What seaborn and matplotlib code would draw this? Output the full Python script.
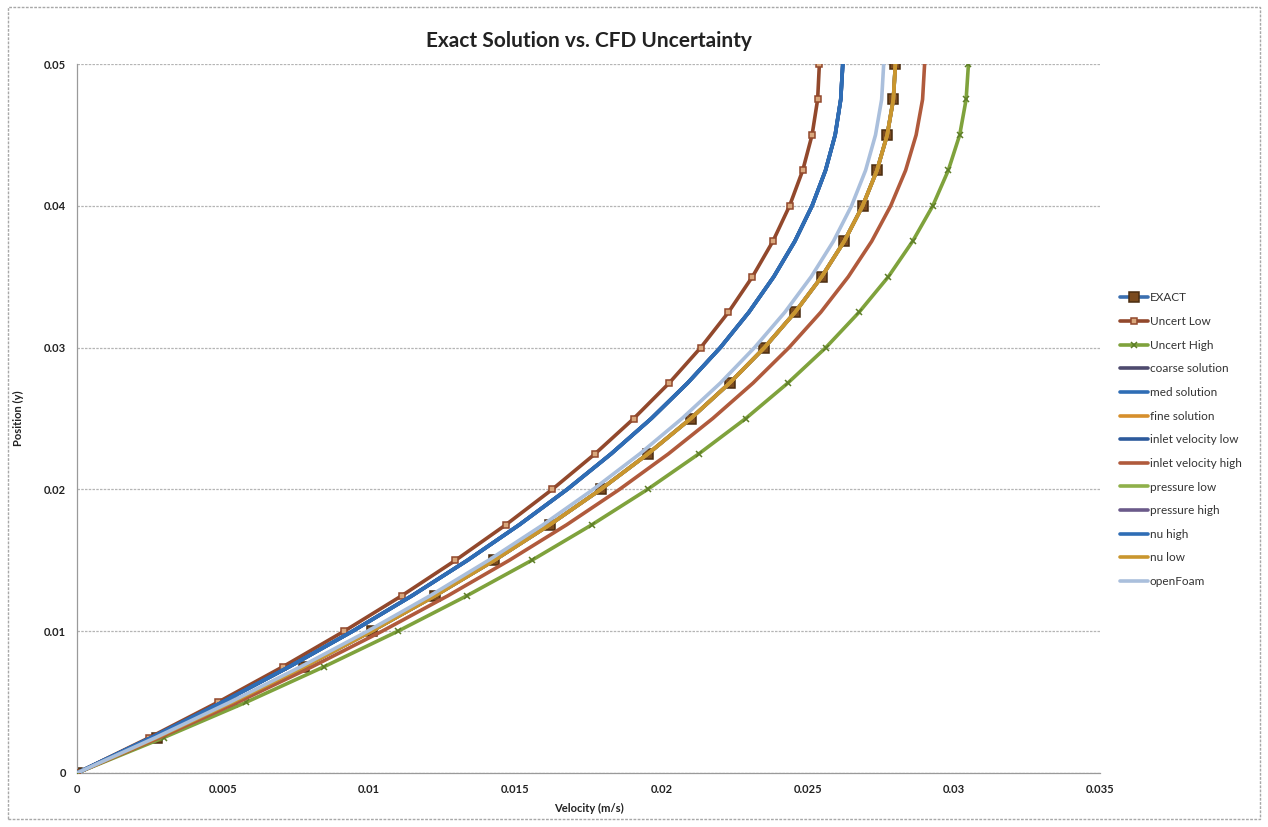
import matplotlib
matplotlib.use("Agg")
import matplotlib.pyplot as plt
import seaborn as sns
import pandas as pd
from matplotlib.patches import Rectangle

# ---- data ----
position = [0, 0.0025, 0.005, 0.0075, 0.01, 0.0125, 0.015, 0.0175, 0.02, 0.0225, 0.025,
            0.0275, 0.03, 0.0325, 0.035, 0.0375, 0.04, 0.0425, 0.045, 0.0475, 0.05]

exact = [0, 0.00273, 0.00532, 0.00777, 0.01008, 0.01225, 0.01428, 0.01617, 0.01792, 0.01953, 0.0210,
         0.02233, 0.02352, 0.02457, 0.02548, 0.02625, 0.02688, 0.02737, 0.02772, 0.02793, 0.0280]
uncert_low = [0, 0.00248, 0.00483, 0.00705, 0.00914, 0.01111, 0.01295, 0.01467, 0.01626, 0.01772, 0.01905,
              0.02026, 0.02134, 0.02229, 0.02311, 0.02381, 0.02438, 0.02483, 0.02515, 0.02534, 0.0254]
uncert_high = [0, 0.00297, 0.00580, 0.00846, 0.01098, 0.01334, 0.01556, 0.01761, 0.01952, 0.02127, 0.02288,
               0.02432, 0.02562, 0.02676, 0.02776, 0.02859, 0.02928, 0.02981, 0.03020, 0.03042, 0.0305]
med_solution = [0, 0.00255, 0.00498, 0.00727, 0.00943, 0.01146, 0.01336, 0.01513, 0.01677, 0.01827, 0.01965,
                0.02089, 0.02201, 0.02299, 0.02384, 0.02456, 0.02515, 0.02561, 0.02594, 0.02613, 0.0262]
coarse_solution = med_solution
fine_solution = [0, 0.00273, 0.00532, 0.00777, 0.01008, 0.01225, 0.01428, 0.01617, 0.01792, 0.01953, 0.0210,
                 0.02233, 0.02352, 0.02457, 0.02548, 0.02625, 0.02688, 0.02737, 0.02772, 0.02793, 0.0280]
inlet_low = med_solution
inlet_high = [0, 0.00283, 0.00551, 0.00805, 0.01044, 0.01269, 0.01479, 0.01675, 0.01856, 0.02023, 0.02175,
              0.02313, 0.02436, 0.02545, 0.02639, 0.02719, 0.02784, 0.02835, 0.02871, 0.02893, 0.0290]
pressure_low = fine_solution
pressure_high = fine_solution
nu_high = med_solution
nu_low = fine_solution
openfoam = [0, 0.00269, 0.00524, 0.00766, 0.00994, 0.01208, 0.01408, 0.01594, 0.01766, 0.01925, 0.0207,
            0.02201, 0.02318, 0.02422, 0.02512, 0.02588, 0.0265, 0.02698, 0.02732, 0.02753, 0.0276]

series_names = ["EXACT", "Uncert Low", "Uncert High", "coarse solution", "med solution", "fine solution",
                "inlet velocity low", "inlet velocity high", "pressure low", "pressure high",
                "nu high", "nu low", "openFoam"]
series_values = [exact, uncert_low, uncert_high, coarse_solution, med_solution, fine_solution,
                 inlet_low, inlet_high, pressure_low, pressure_high, nu_high, nu_low, openfoam]

x_ticks = [0, 0.005, 0.01, 0.015, 0.02, 0.025, 0.03, 0.035]
x_tick_labels = ["0", "0.005", "0.01", "0.015", "0.02", "0.025", "0.03", "0.035"]
y_ticks = [0, 0.01, 0.02, 0.03, 0.04, 0.05]
y_tick_labels = ["0", "0.01", "0.02", "0.03", "0.04", "0.05"]

# ---- styles ----
styles = {
    "EXACT": dict(color="#3b6fb0", marker="s", ms=7, mfc="#7a4a1e", mec="#4a2c10"),
    "Uncert Low": dict(color="#92482c", marker="s", ms=5, mfc="#d9a77c", mec="#92482c"),
    "Uncert High": dict(color="#7fa23c", marker="x", ms=5, mfc="#7fa23c", mec="#5d7d28"),
    "coarse solution": dict(color="#4e4a6e"),
    "med solution": dict(color="#2f6db5"),
    "fine solution": dict(color="#d68f2c"),
    "inlet velocity low": dict(color="#2d5a9c"),
    "inlet velocity high": dict(color="#b05a3c"),
    "pressure low": dict(color="#8fb04a"),
    "pressure high": dict(color="#6b5a8a"),
    "nu high": dict(color="#2f6db5"),
    "nu low": dict(color="#c9962e"),
    "openFoam": dict(color="#aabfdc"),
}

sns.set_theme(style="white")
plt.rcParams["font.family"] = ["Lato", "DejaVu Sans"]

fig = plt.figure(figsize=(12.68, 8.27), dpi=100)
ax = fig.add_axes([0.0607, 0.0653, 0.8068, 0.8573])

draw_order = ["EXACT", "Uncert Low", "Uncert High", "coarse solution", "pressure low", "pressure high",
              "fine solution", "inlet velocity low", "inlet velocity high", "nu low", "med solution",
              "nu high", "openFoam"]
handles = {}
for z, name in enumerate(draw_order):
    vals = series_values[series_names.index(name)]
    df = pd.DataFrame({"Velocity": vals, "Position": position})
    st = styles[name]
    sns.lineplot(data=df, x="Velocity", y="Position", ax=ax, sort=False, estimator=None,
                 color=st["color"], lw=2.6, zorder=2 + z, legend=False)
    line = ax.lines[-1]
    line.set_solid_capstyle("round")
    if "marker" in st:
        line.set_marker(st["marker"])
        line.set_markersize(st["ms"])
        line.set_markerfacecolor(st["mfc"])
        line.set_markeredgecolor(st["mec"])
        line.set_markeredgewidth(1.1)
    line.set_label(name)
    handles[name] = line

ax.set_xlim(0, 0.035)
ax.set_ylim(0, 0.05)
ax.set_xticks(x_ticks)
ax.set_xticklabels(x_tick_labels)
ax.set_yticks(y_ticks)
ax.set_yticklabels(y_tick_labels)
ax.tick_params(axis="both", labelsize=8, colors="#222222", length=0, pad=8)
for lbl in ax.get_xticklabels() + ax.get_yticklabels():
    lbl.set_fontweight("bold")

ax.grid(axis="y", color="#b5b5b5", lw=0.9, ls=(0, (2, 1)))
ax.grid(axis="x", visible=False)
for s in ["top", "right"]:
    ax.spines[s].set_visible(False)
ax.spines["left"].set_color("#9a9a9a")
ax.spines["bottom"].set_color("#9a9a9a")
ax.spines["left"].set_linewidth(0.9)
ax.spines["bottom"].set_linewidth(0.9)

ax.set_xlabel("Velocity (m/s)", fontsize=8, fontweight="bold", color="#222222", labelpad=6)
ax.set_ylabel("Position (y)", fontsize=8, fontweight="bold", color="#222222", labelpad=14)
ax.set_title("Exact Solution vs. CFD Uncertainty", fontsize=15, fontweight="bold", color="#222222", pad=12)

leg = ax.legend([handles[n] for n in series_names], series_names, loc="center left",
                bbox_to_anchor=(1.015, 0.47), frameon=False, fontsize=8.5, handlelength=2.4,
                handletextpad=0.1, labelspacing=1.07, borderaxespad=0)
for t in leg.get_texts():
    t.set_color("#333333")

fig.patches.append(Rectangle((0.006, 0.01), 0.988, 0.982, transform=fig.transFigure,
                             fill=False, ec="#a8a8a8", lw=1.0, ls=(0, (2, 1))))

fig.savefig("out.png", dpi=100)
